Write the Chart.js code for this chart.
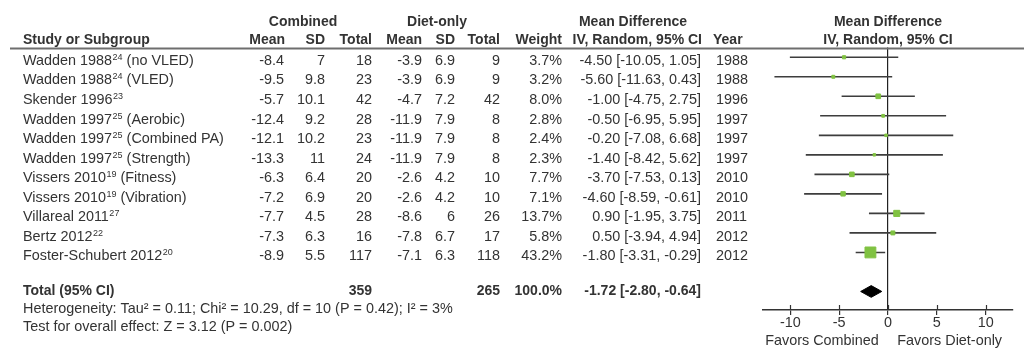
<!DOCTYPE html>
<html>
<head>
<meta charset="utf-8">
<script src="https://cdn.jsdelivr.net/npm/chart.js@4.4.1/dist/chart.umd.min.js"></script>
<style>
html,body{margin:0;padding:0;background:#fff;}
canvas{display:block;}
</style>
</head>
<body>
<canvas id="c" width="1024" height="358"></canvas>
<script>
// ---- data ----
const studyNames = ['Wadden 1988','Wadden 1988','Skender 1996','Wadden 1997','Wadden 1997','Wadden 1997','Vissers 2010','Vissers 2010','Villareal 2011','Bertz 2012','Foster-Schubert 2012'];
const studyRefs = ['24','24','23','25','25','25','19','19','27','22','20'];
const studySub = ['(no VLED)','(VLED)','','(Aerobic)','(Combined PA)','(Strength)','(Fitness)','(Vibration)','','',''];
const combMean = [-8.4,-9.5,-5.7,-12.4,-12.1,-13.3,-6.3,-7.2,-7.7,-7.3,-8.9];
const combSD = [7,9.8,10.1,9.2,10.2,11,6.4,6.9,4.5,6.3,5.5];
const combN = [18,23,42,28,23,24,20,20,28,16,117];
const dietMean = [-3.9,-3.9,-4.7,-11.9,-11.9,-11.9,-2.6,-2.6,-8.6,-7.8,-7.1];
const dietSD = [6.9,6.9,7.2,7.9,7.9,7.9,4.2,4.2,6,6.7,6.3];
const dietN = [9,9,42,8,8,8,10,10,26,17,118];
const weights = [3.7,3.2,8.0,2.8,2.4,2.3,7.7,7.1,13.7,5.8,43.2];
const md = [-4.50,-5.60,-1.00,-0.50,-0.20,-1.40,-3.70,-4.60,0.90,0.50,-1.80];
const ciLo = [-10.05,-11.63,-4.75,-6.95,-7.08,-8.42,-7.53,-8.59,-1.95,-3.94,-3.31];
const ciHi = [1.05,0.43,2.75,5.95,6.68,5.62,0.13,-0.61,3.75,4.94,-0.29];
const years = [1988,1988,1996,1997,1997,1997,2010,2010,2011,2012,2012];
const totalComb = 359;
const totalDiet = 265;
const totalWeight = 100.0;
const totalMd = -1.72, totalLo = -2.80, totalHi = -0.64;
const heterogeneityText = 'Heterogeneity: Tau\u00B2 = 0.11; Chi\u00B2 = 10.29, df = 10 (P = 0.42); I\u00B2 = 3%';
const overallText = 'Test for overall effect: Z = 3.12 (P = 0.002)';
const xTickValues = [-10,-5,0,5,10];
const favorsLeft = 'Favors Combined';
const favorsRight = 'Favors Diet-only';

// ---- layout / style ----
const FONT = '"Liberation Sans", Arial, sans-serif';
const FS = 14.4;
const TXT = '#333333';
const GREEN = '#80c242';
const TOTAL_ROW = 13;

const studyRows = studyNames.map((_, i) => i + 1);

const datasets = [];
datasets.push({
  label: 'estimates',
  data: md.map((v, i) => ({x: v, y: studyRows[i]})),
  pointStyle: 'rect',
  pointRadius: weights.map(w => 1.65 * Math.sqrt(w) / Math.SQRT2),
  pointBackgroundColor: GREEN,
  pointBorderColor: GREEN,
  pointBorderWidth: 1,
  showLine: false,
  order: 0
});
md.forEach((v, i) => {
  datasets.push({
    label: 'ci' + i,
    data: [{x: ciLo[i], y: studyRows[i]}, {x: ciHi[i], y: studyRows[i]}],
    showLine: true,
    borderColor: '#3d3d3d',
    borderWidth: 1.6,
    pointRadius: 0,
    order: 1
  });
});
datasets.push({
  label: 'total',
  data: [{x: totalLo, y: TOTAL_ROW}, {x: totalMd, y: TOTAL_ROW - 0.3}, {x: totalHi, y: TOTAL_ROW}, {x: totalMd, y: TOTAL_ROW + 0.3}, {x: totalLo, y: TOTAL_ROW}],
  showLine: true,
  fill: 'shape',
  backgroundColor: '#000',
  borderColor: '#000',
  borderWidth: 1,
  pointRadius: 0,
  tension: 0,
  order: 0
});

function txt(ctx, s, x, y, align, bold, size) {
  ctx.font = (bold ? 'bold ' : '') + (size || (bold ? 14 : FS)) + 'px ' + FONT;
  ctx.textAlign = align || 'left';
  ctx.textBaseline = 'alphabetic';
  ctx.fillStyle = TXT;
  ctx.fillText(s, x, y);
}

const tablePlugin = {
  id: 'table',
  afterDraw(chart) {
    const ctx = chart.ctx;
    const ys = chart.scales.y;
    const xs = chart.scales.x;
    ctx.save();
    // header rule
    ctx.strokeStyle = '#6e6e6e';
    ctx.lineWidth = 2;
    ctx.beginPath();
    ctx.moveTo(10, 48.5);
    ctx.lineTo(1024, 48.5);
    ctx.stroke();

    // headers
    const h1 = 25.5, h2 = 44;
    txt(ctx, 'Combined', 303, h1, 'center', true);
    txt(ctx, 'Diet-only', 437, h1, 'center', true);
    txt(ctx, 'Mean Difference', 633, h1, 'center', true);
    txt(ctx, 'Mean Difference', 888, h1, 'center', true);
    txt(ctx, 'Study or Subgroup', 23, h2, 'left', true);
    txt(ctx, 'Mean', 285, h2, 'right', true);
    txt(ctx, 'SD', 325, h2, 'right', true);
    txt(ctx, 'Total', 372, h2, 'right', true);
    txt(ctx, 'Mean', 422, h2, 'right', true);
    txt(ctx, 'SD', 455, h2, 'right', true);
    txt(ctx, 'Total', 500, h2, 'right', true);
    txt(ctx, 'Weight', 562, h2, 'right', true);
    txt(ctx, 'IV, Random, 95% CI', 702, h2, 'right', true);
    txt(ctx, 'Year', 713, h2, 'left', true);
    txt(ctx, 'IV, Random, 95% CI', 888, h2, 'center', true);

    // rows
    studyNames.forEach((name, i) => {
      const y = ys.getPixelForValue(studyRows[i]) + 7.7;
      let x = 23;
      txt(ctx, name, x, y, 'left');
      x += ctx.measureText(name).width;
      txt(ctx, studyRefs[i], x + 0.5, y - 5, 'left', false, 9);
      x += ctx.measureText(studyRefs[i]).width + 0.5;
      if (studySub[i]) {
        txt(ctx, ' ' + studySub[i], x, y, 'left');
      }
      txt(ctx, String(combMean[i]), 284, y, 'right');
      txt(ctx, String(combSD[i]), 325, y, 'right');
      txt(ctx, String(combN[i]), 372, y, 'right');
      txt(ctx, String(dietMean[i]), 422, y, 'right');
      txt(ctx, String(dietSD[i]), 455, y, 'right');
      txt(ctx, String(dietN[i]), 500, y, 'right');
      txt(ctx, weights[i].toFixed(1) + '%', 562, y, 'right');
      txt(ctx, md[i].toFixed(2) + ' [' + ciLo[i].toFixed(2) + ', ' + ciHi[i].toFixed(2) + ']', 701, y, 'right');
      txt(ctx, String(years[i]), 716, y, 'left');
    });

    // total row
    const ty = ys.getPixelForValue(TOTAL_ROW) + 4;
    txt(ctx, 'Total (95% CI)', 23, ty, 'left', true);
    txt(ctx, String(totalComb), 372, ty, 'right', true);
    txt(ctx, String(totalDiet), 500, ty, 'right', true);
    txt(ctx, totalWeight.toFixed(1) + '%', 562, ty, 'right', true);
    txt(ctx, totalMd.toFixed(2) + ' [' + totalLo.toFixed(2) + ', ' + totalHi.toFixed(2) + ']', 701, ty, 'right', true);

    txt(ctx, heterogeneityText, 23, 312.5, 'left');
    txt(ctx, overallText, 23, 331, 'left');

    // upper halves of tick marks
    const axisY = chart.chartArea.bottom;
    ctx.strokeStyle = '#333';
    ctx.lineWidth = 1.2;
    xTickValues.forEach(v => {
      const px = Math.round(xs.getPixelForValue(v)) + 0.5;
      ctx.beginPath();
      ctx.moveTo(px, axisY - 5);
      ctx.lineTo(px, axisY);
      ctx.stroke();
    });
    // favors labels
    txt(ctx, favorsLeft, xs.getPixelForValue(-0.95), 345, 'right');
    txt(ctx, favorsRight, xs.getPixelForValue(0.95), 345, 'left');
    ctx.restore();
  }
};

new Chart(document.getElementById('c'), {
  type: 'scatter',
  data: { datasets },
  options: {
    responsive: false,
    devicePixelRatio: 1,
    animation: false,
    layout: { padding: { left: 763, right: 11, top: 47.5, bottom: 0 } },
    plugins: { legend: { display: false }, tooltip: { enabled: false } },
    scales: {
      x: {
        type: 'linear',
        min: -12.8,
        max: 12.8,
        afterBuildTicks: s => { s.ticks = xTickValues.map(v => ({value: v})); },
        afterFit: s => { s.height = 48; },
        ticks: {
          font: { family: FONT, size: FS },
          color: TXT,
          padding: -1,
          maxRotation: 0,
          callback: v => String(v)
        },
        grid: {
          drawOnChartArea: true,
          color: c => (c.tick && c.tick.value === 0) ? '#222' : 'rgba(0,0,0,0)',
          lineWidth: 1.2,
          tickColor: '#333',
          tickLength: 5
        },
        border: { display: true, color: '#333', width: 1.4 }
      },
      y: {
        type: 'linear',
        reverse: true,
        min: 0.5,
        max: 13.95,
        display: false
      }
    }
  },
  plugins: [tablePlugin]
});
</script>
</body>
</html>
